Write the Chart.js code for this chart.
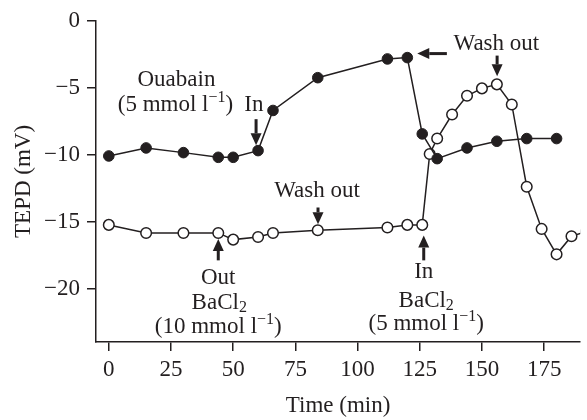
<!DOCTYPE html>
<html>
<head>
<meta charset="utf-8">
<script src="https://cdn.jsdelivr.net/npm/chart.js@4.4.0/dist/chart.umd.min.js"></script>
<style>
  html, body { margin: 0; padding: 0; background: #fff; }
</style>
</head>
<body>
<canvas id="chart" width="587" height="420"></canvas>
<script>
// Время (мин) и TEPD (мВ) для двух серий
const ouabainTime = [0, 15, 30, 44, 50, 60, 66, 84, 112, 120, 126, 132, 144, 156, 168, 180];
const ouabainTepd = [-10.1, -9.5, -9.85, -10.2, -10.2, -9.7, -6.7, -4.25, -2.85, -2.75, -8.45, -10.3, -9.5, -9.0, -8.8, -8.8];

const bariumTime = [0, 15, 30, 44, 50, 60, 66, 84, 112, 120, 126, 129, 132, 138, 144, 150, 156, 162, 168, 174, 180, 186, 192];
const bariumTepd = [-15.25, -15.85, -15.85, -15.85, -16.35, -16.15, -15.85, -15.65, -15.45, -15.25, -15.25, -9.95, -8.8, -7.0, -5.6, -5.05, -4.75, -6.25, -12.4, -15.55, -17.45, -16.1, -15.75];

const xTicks = [0, 25, 50, 75, 100, 125, 150, 175];
const yTicks = [0, -5, -10, -15, -20];

const FONT = 'Liberation Serif';
const SIZE = 23;
const INK = '#231f20';

function toPoints(xs, ys) {
    return xs.map((x, i) => ({ x: x, y: ys[i] }));
}

function minusLabel(v) {
    return v < 0 ? '\u2212' + Math.abs(v) : String(v);
}

// Текст с верхними/нижними индексами
function richText(ctx, parts, cx, cy) {
    let total = 0;
    parts.forEach(p => {
        ctx.font = (p[1] ? '16px ' : SIZE + 'px ') + FONT;
        total += ctx.measureText(p[0]).width;
    });
    let x = cx - total / 2;
    parts.forEach(p => {
        ctx.font = (p[1] ? '16px ' : SIZE + 'px ') + FONT;
        let dy = 0;
        if (p[1] === 'sup') dy = -7;
        if (p[1] === 'sub') dy = 5;
        ctx.fillText(p[0], x, cy + dy);
        x += ctx.measureText(p[0]).width;
    });
}

// Стрелка от (x1,y1) к острию (x2,y2)
function arrow(ctx, x1, y1, x2, y2) {
    const ang = Math.atan2(y2 - y1, x2 - x1);
    const head = 12, half = 5.5;
    const bx = x2 - Math.cos(ang) * head, by = y2 - Math.sin(ang) * head;
    ctx.lineWidth = 3;
    ctx.beginPath();
    ctx.moveTo(x1, y1);
    ctx.lineTo(bx, by);
    ctx.stroke();
    ctx.beginPath();
    ctx.moveTo(x2, y2);
    ctx.lineTo(bx - Math.sin(ang) * half, by + Math.cos(ang) * half);
    ctx.lineTo(bx + Math.sin(ang) * half, by - Math.cos(ang) * half);
    ctx.closePath();
    ctx.fill();
}

const annotations = {
    id: 'annotations',
    afterDatasetsDraw(chart) {
        const ctx = chart.ctx;
        const X = v => chart.scales.x.getPixelForValue(v);
        const Y = v => chart.scales.y.getPixelForValue(v);
        ctx.save();
        ctx.fillStyle = INK;
        ctx.strokeStyle = INK;
        ctx.textBaseline = 'middle';
        ctx.textAlign = 'left';

        // Ouabain
        richText(ctx, [['Ouabain']], X(27.2), Y(-4.4));
        richText(ctx, [['(5 mmol l'], ['\u22121', 'sup'], [')']], X(26.8), Y(-6.3));
        richText(ctx, [['In']], X(58.3), Y(-6.3));
        arrow(ctx, X(59.2), Y(-7.35), X(59.2), Y(-9.3));

        // Wash out (середина)
        richText(ctx, [['Wash out']], X(83.7), Y(-12.75));
        arrow(ctx, X(84.1), Y(-13.95), X(84.1), Y(-15.2));

        // Out BaCl2 (10 mmol)
        arrow(ctx, X(44), Y(-17.9), X(44), Y(-16.3));
        richText(ctx, [['Out']], X(44), Y(-19.25));
        richText(ctx, [['BaCl'], ['2', 'sub']], X(44.4), Y(-21.1));
        richText(ctx, [['(10 mmol l'], ['\u22121', 'sup'], [')']], X(44), Y(-22.9));

        // In BaCl2 (5 mmol)
        arrow(ctx, X(126.6), Y(-17.9), X(126.6), Y(-16.05));
        richText(ctx, [['In']], X(126.6), Y(-18.75));
        richText(ctx, [['BaCl'], ['2', 'sub']], X(127.6), Y(-20.95));
        richText(ctx, [['(5 mmol l'], ['\u22121', 'sup'], [')']], X(127.6), Y(-22.65));

        // Wash out (вверху)
        richText(ctx, [['Wash out']], X(155.8), Y(-1.7));
        arrow(ctx, X(135.9), Y(-2.45), X(124), Y(-2.45));
        arrow(ctx, X(156.1), Y(-2.6), X(156.1), Y(-4.15));

        ctx.restore();
    }
};

const ctx = document.getElementById('chart').getContext('2d');

new Chart(ctx, {
    type: 'line',
    data: {
        datasets: [{
            label: 'Ouabain',
            data: toPoints(ouabainTime, ouabainTepd),
            borderColor: INK,
            borderWidth: 1.5,
            pointRadius: 5.3,
            pointBackgroundColor: INK,
            pointBorderColor: INK,
            pointBorderWidth: 1,
            tension: 0
        }, {
            label: 'BaCl2',
            data: toPoints(bariumTime, bariumTepd),
            borderColor: INK,
            borderWidth: 1.5,
            pointRadius: 5.3,
            pointBackgroundColor: '#fff',
            pointBorderColor: INK,
            pointBorderWidth: 1.5,
            tension: 0
        }]
    },
    options: {
        responsive: false,
        animation: false,
        layout: { padding: { top: 15, right: 0, bottom: 0, left: 0 } },
        plugins: { legend: { display: false }, tooltip: { enabled: false } },
        scales: {
            x: {
                type: 'linear',
                min: -5.15,
                max: 189.5,
                afterBuildTicks: s => { s.ticks = xTicks.map(v => ({ value: v })); },
                afterFit: s => { s.height = 78; },
                ticks: { font: { family: FONT, size: SIZE }, color: INK, padding: 5, maxRotation: 0, autoSkip: false },
                grid: { drawOnChartArea: false, drawTicks: true, tickLength: 9, color: INK, lineWidth: 1.5 },
                border: { color: INK, width: 1.5 },
                title: { display: true, text: 'Time (min)', font: { family: FONT, size: SIZE }, color: INK, padding: { top: 0, bottom: 0 } }
            },
            y: {
                min: -24,
                max: 0,
                afterBuildTicks: s => { s.ticks = yTicks.map(v => ({ value: v })); },
                afterFit: s => { s.width = 96; },
                ticks: { font: { family: FONT, size: SIZE }, color: INK, padding: 7, callback: v => minusLabel(v) },
                grid: { drawOnChartArea: false, drawTicks: true, tickLength: 9, color: INK, lineWidth: 1.5 },
                border: { color: INK, width: 1.5 },
                title: { display: true, text: 'TEPD (mV)', font: { family: FONT, size: SIZE }, color: INK, padding: { top: 10, bottom: 0 } }
            }
        }
    },
    plugins: [annotations]
});
</script>
</body>
</html>
